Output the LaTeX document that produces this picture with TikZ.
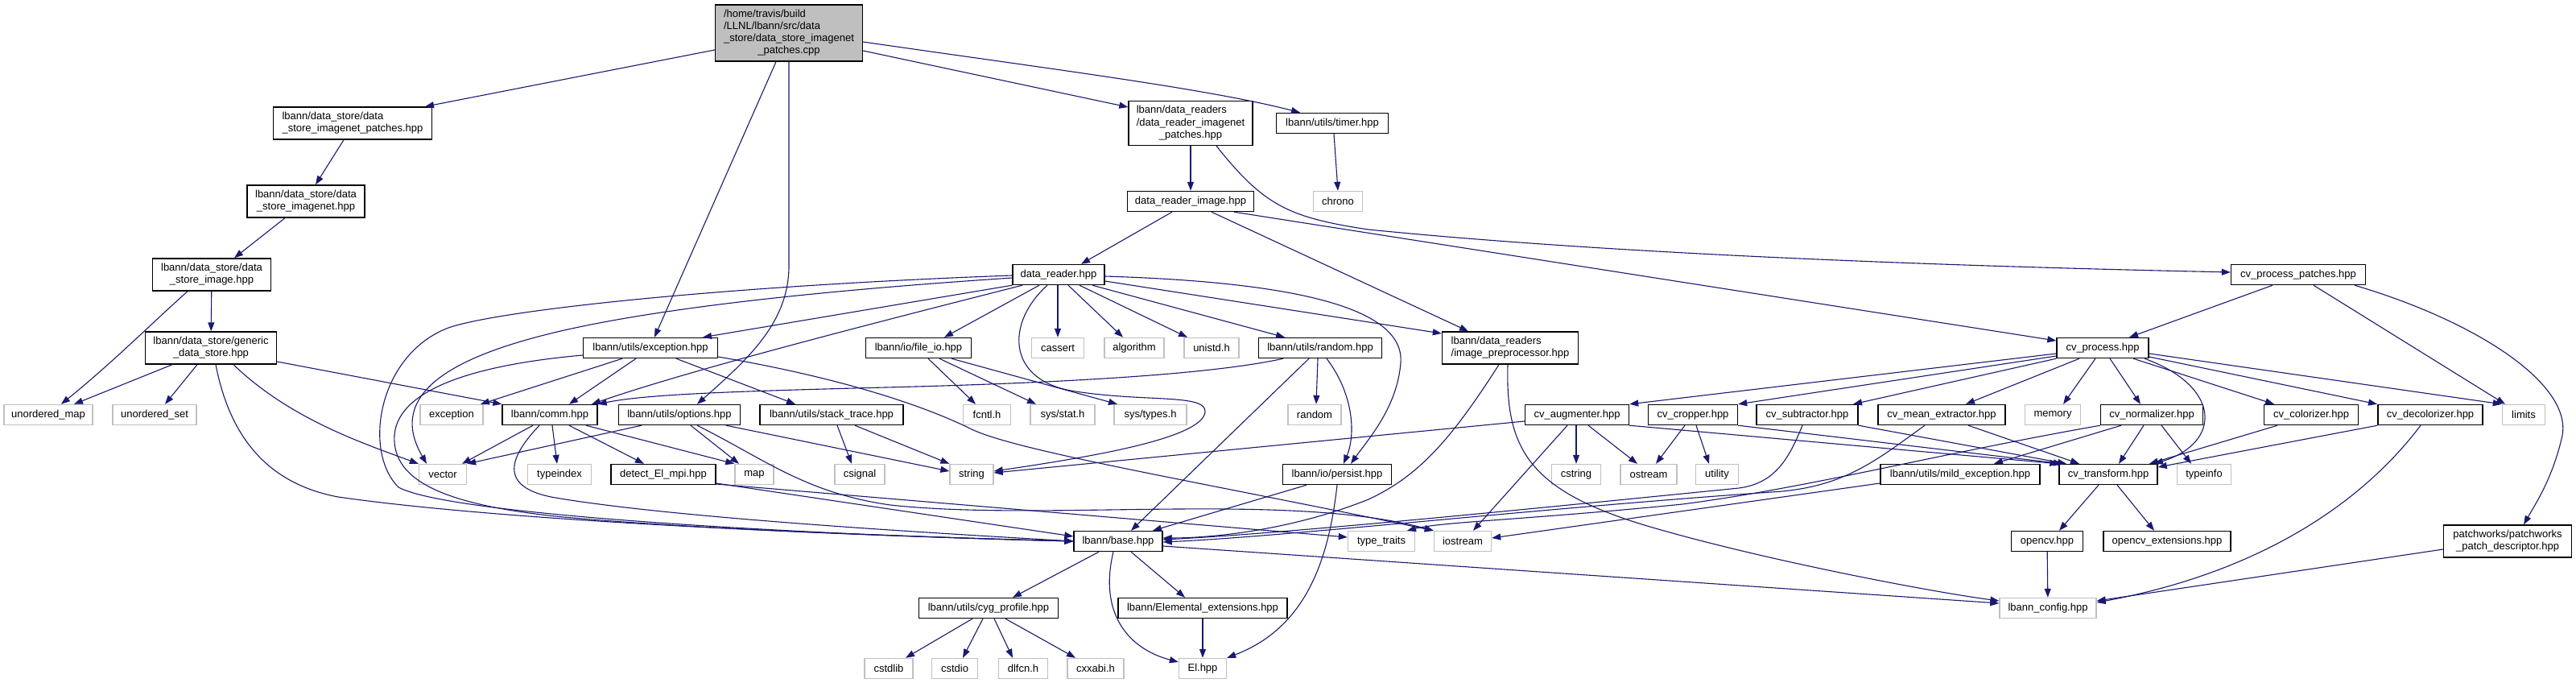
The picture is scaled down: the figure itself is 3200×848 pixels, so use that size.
\documentclass[tikz,border=0pt]{standalone}
\usepackage{fontspec}
\setmainfont{Liberation Sans}
\usetikzlibrary{arrows.meta}
\definecolor{edgec}{HTML}{191970}
\definecolor{sysgray}{HTML}{C0C0C0}
\definecolor{maingray}{HTML}{BFBFBF}
\newcommand{\mlt}[2]{\begin{tabular}{@{}l@{}}#1\\\multicolumn{1}{@{}c@{}}{#2}\end{tabular}}
\begin{document}
\begin{tikzpicture}[x=1pt,y=-1pt,
 nd/.style={draw=black, fill=white, line width=1.4pt, inner sep=0pt, minimum height=25pt, font={\fontsize{13}{15}\selectfont}},
 sy/.style={nd, draw=sysgray},
 e/.style={draw=edgec, line width=1.1pt, -{Triangle[length=11pt,width=8pt]}}]
\fill[white] (0,0) rectangle (3200,848);
\useasboundingbox (0,0) rectangle (3200,848);
% nodes
\node[nd,fill=maingray,minimum width=183pt,minimum height=70pt] (main) at (980,41) {\mlt{/home/travis/build\\/LLNL/lbann/src/data\\\_store/data\_store\_imagenet}{\_patches.cpp}};
\node[nd,minimum width=197pt,minimum height=40pt] (dsp) at (438,153) {\mlt{lbann/data\_store/data}{\_store\_imagenet\_patches.hpp}};
\node[nd,minimum width=146pt,minimum height=40pt] (dsi) at (380,250) {\mlt{lbann/data\_store/data}{\_store\_imagenet.hpp}};
\node[nd,minimum width=147pt,minimum height=40pt] (dsim) at (263,341) {\mlt{lbann/data\_store/data}{\_store\_image.hpp}};
\node[nd,minimum width=163pt,minimum height=40pt] (gen) at (262,432) {\mlt{lbann/data\_store/generic}{\_data\_store.hpp}};
\node[nd,minimum width=154pt,minimum height=55pt] (drp) at (1479,153) {\mlt{lbann/data\_readers\\/data\_reader\_imagenet}{\_patches.hpp}};
\node[nd,minimum width=139pt] (timer) at (1655,153) {lbann/utils/timer.hpp};
\node[sy,minimum width=61pt] (chrono) at (1662,250) {chrono};
\node[nd,minimum width=157pt] (dri) at (1479,250) {data\_reader\_image.hpp};
\node[nd,minimum width=114pt] (dr) at (1315,341) {data\_reader.hpp};
\node[nd,minimum width=169pt,minimum height=40pt] (ip) at (1876,432) {\mlt{lbann/data\_readers}{/image\_preprocessor.hpp}};
\node[nd,minimum width=167pt] (cpp) at (2855,341) {cv\_process\_patches.hpp};
\node[nd,minimum width=114pt] (cvp) at (2612,432) {cv\_process.hpp};
\node[sy,minimum width=110pt] (umap) at (60,515) {unordered\_map};
\node[sy,minimum width=104pt] (uset) at (192,515) {unordered\_set};
\node[sy,minimum width=78pt] (sexc) at (561,515) {exception};
\node[nd,minimum width=118pt] (comm) at (683,515) {lbann/comm.hpp};
\node[nd,minimum width=167pt] (exc) at (808,432) {lbann/utils/exception.hpp};
\node[nd,minimum width=151pt] (opt) at (844,515) {lbann/utils/options.hpp};
\node[sy,minimum width=59pt] (vec) at (550,589) {vector};
\node[sy,minimum width=79pt] (tidx) at (695,589) {typeindex};
\node[nd,minimum width=130pt] (det) at (824,589) {detect\_El\_mpi.hpp};
\node[nd,minimum width=131pt] (fio) at (1141,432) {lbann/io/file\_io.hpp};
\node[sy,minimum width=65pt] (cas) at (1314,432) {cassert};
\node[sy,minimum width=74pt] (alg) at (1409,432) {algorithm};
\node[sy,minimum width=68pt] (uni) at (1505,432) {unistd.h};
\node[nd,minimum width=153pt] (rnd) at (1640,432) {lbann/utils/random.hpp};
\node[nd,minimum width=178pt] (st) at (1033,515) {lbann/utils/stack\_trace.hpp};
\node[sy,minimum width=59pt] (fcntl) at (1226,515) {fcntl.h};
\node[sy,minimum width=80pt] (sstat) at (1320,515) {sys/stat.h};
\node[sy,minimum width=90pt] (stypes) at (1429,515) {sys/types.h};
\node[sy,minimum width=48pt] (map) at (937,589) {map};
\node[sy,minimum width=62pt] (csig) at (1068,589) {csignal};
\node[sy,minimum width=54pt] (str) at (1207,589) {string};
\node[nd,minimum width=110pt] (base) at (1389,672) {lbann/base.hpp};
\node[nd,minimum width=173pt] (cyg) at (1228,755) {lbann/utils/cyg\_profile.hpp};
\node[nd,minimum width=210pt] (elx) at (1494,755) {lbann/Elemental\_extensions.hpp};
\node[sy,minimum width=60pt] (cstdlib) at (1104,830) {cstdlib};
\node[sy,minimum width=57pt] (cstdio) at (1186,830) {cstdio};
\node[sy,minimum width=61pt] (dlfcn) at (1271,830) {dlfcn.h};
\node[sy,minimum width=70pt] (cxxabi) at (1361,830) {cxxabi.h};
\node[sy,minimum width=59pt] (El) at (1494,830) {El.hpp};
\node[nd,minimum width=198pt] (mild) at (2435,589) {lbann/utils/mild\_exception.hpp};
\node[sy,minimum width=66pt] (rstd) at (1633,515) {random};
\node[nd,minimum width=135pt] (per) at (1661,589) {lbann/io/persist.hpp};
\node[nd,minimum width=129pt] (aug) at (1959,515) {cv\_augmenter.hpp};
\node[nd,minimum width=111pt] (crop) at (2103,515) {cv\_cropper.hpp};
\node[nd,minimum width=126pt] (sub) at (2245,515) {cv\_subtractor.hpp};
\node[nd,minimum width=158pt] (mean) at (2412,515) {cv\_mean\_extractor.hpp};
\node[sy,minimum width=61pt] (cstr) at (1958,589) {cstring};
\node[sy,minimum width=70pt] (ost) at (2048,589) {ostream};
\node[sy,minimum width=53pt] (util) at (2133,589) {utility};
\node[sy,minimum width=83pt] (tt) at (1716,672) {type\_traits};
\node[sy,minimum width=71pt] (ios) at (1817,672) {iostream};
\node[sy,minimum width=69pt] (mem) at (2550,515) {memory};
\node[nd,minimum width=127pt] (norm) at (2673,515) {cv\_normalizer.hpp};
\node[nd,minimum width=117pt] (col) at (2871,515) {cv\_colorizer.hpp};
\node[nd,minimum width=130pt] (dec) at (3019,515) {cv\_decolorizer.hpp};
\node[sy,minimum width=53pt] (lim) at (3135,515) {limits};
\node[nd,minimum width=122pt] (tr) at (2619,589) {cv\_transform.hpp};
\node[sy,minimum width=67pt] (tinfo) at (2738,589) {typeinfo};
\node[nd,minimum width=89pt] (ocv) at (2543,672) {opencv.hpp};
\node[nd,minimum width=158pt] (ocvx) at (2692,672) {opencv\_extensions.hpp};
\node[nd,minimum width=159pt,minimum height=40pt] (pw) at (3115,672) {\mlt{patchworks/patchworks}{\_patch\_descriptor.hpp}};
\node[sy,minimum width=120pt] (cfg) at (2544,755) {lbann\_config.hpp};
% edges: main
\draw[e] (main.west |- 0,62) -- (dsp.north -| 528,0);
\draw[e] (main.south -| 964,0) -- (exc.north -| 813,0);
\draw[e] (main.south -| 980,0) -- (980,330) .. controls (980,400) and (930,445) .. (opt.north -| 866,0);
\draw[e] (main.east |- 0,63) -- (drp.west |- 0,133);
\draw[e] (main.east |- 0,52) .. controls (1300,85) and (1500,110) .. (timer.north -| 1615,0);
% data store chain
\draw[e] (dsp.south -| 427,0) -- (dsi.north -| 392,0);
\draw[e] (dsi.south -| 354,0) -- (dsim.north -| 291,0);
\draw[e] (dsim) -- (gen);
\draw[e] (dsim.south -| 233,0) .. controls (190,400) and (140,450) .. (umap.north -| 76,0);
\draw[e] (gen.south -| 214,0) -- (umap.north -| 92,0);
\draw[e] (gen.south -| 245,0) -- (uset.north -| 205,0);
\draw[e] (gen.south -| 268,0) .. controls (285,540) and (330,600) .. (420,617) .. controls (650,650) and (1100,666) .. (base.west);
\draw[e] (gen.south -| 290,0) .. controls (360,520) and (450,550) .. (vec.north west);
\draw[e] (gen.east |- 0,449) -- (comm.north west);
% readers
\draw[e] (drp) -- (dri);
\draw[e] (drp.south -| 1511,0) .. controls (1570,255) and (1600,270) .. (1700,285) .. controls (2000,315) and (2400,330) .. (cpp.west |- 0,338);
\draw[e] (timer.south -| 1657,0) -- (chrono.north);
\draw[e] (dri.south -| 1456,0) -- (dr.north -| 1343,0);
\draw[e] (dri.south -| 1505,0) -- (ip.north -| 1824,0);
\draw[e] (dri.south -| 1533,0) -- (cvp.west |- 0,423);
% data_reader
\draw[e] (dr.west |- 0,345) .. controls (1000,362) and (800,385) .. (680,415) .. controls (560,445) and (480,490) .. (vec.north -| 530,0);
\draw[e] (dr.west |- 0,342) .. controls (900,355) and (620,385) .. (557,407) .. controls (470,440) and (450,560) .. (495,605) .. controls (560,640) and (1000,664) .. (base.west);
\draw[e] (dr.south west) -- (exc.north -| 873,0);
\draw[e] (dr.south -| 1270,0) .. controls (1050,410) and (850,462) .. (comm.north -| 735,0);
\draw[e] (dr.south -| 1291,0) -- (fio.north -| 1173,0);
\draw[e] (dr.south -| 1301,0) .. controls (1250,400) and (1250,470) .. (1330,485) .. controls (1420,500) and (1500,488) .. (1497,512) .. controls (1492,545) and (1350,568) .. (str.east |- 0,585);
\draw[e] (dr.south -| 1314,0) -- (cas.north);
\draw[e] (dr.south -| 1327,0) -- (alg.north -| 1395,0);
\draw[e] (dr.south -| 1341,0) -- (uni.north -| 1475,0);
\draw[e] (dr.south -| 1357,0) -- (rnd.north -| 1596,0);
\draw[e] (dr.east |- 0,349) -- (ip.west |- 0,414);
\draw[e] (dr.east |- 0,343) .. controls (1600,350) and (1745,380) .. (1740,450) .. controls (1736,505) and (1700,545) .. (per.north -| 1678,0);
% exception
\draw[e] (exc.west |- 0,441) .. controls (600,452) and (495,480) .. (490,540) .. controls (486,600) and (560,628) .. (700,642) .. controls (900,660) and (1200,668) .. (base.west);
\draw[e] (exc.south -| 773,0) -- (sexc.north -| 597,0);
\draw[e] (exc.south -| 790,0) -- (comm.north -| 707,0);
\draw[e] (exc.south -| 840,0) -- (st.north -| 988,0);
\draw[e] (exc.east |- 0,443) .. controls (1050,470) and (1150,505) .. (1205,532) .. controls (1260,560) and (1500,600) .. (ios.north west);
% comm
\draw[e] (comm.south -| 662,0) -- (vec.north -| 574,0);
\draw[e] (comm.south -| 670,0) .. controls (635,565) and (615,605) .. (690,618) .. controls (850,645) and (1200,664) .. (base.west);
\draw[e] (comm.south -| 686,0) -- (tidx.north -| 692,0);
\draw[e] (comm.south -| 707,0) -- (det.north -| 800,0);
\draw[e] (comm.south -| 728,0) -- (map.north west);
% options
\draw[e] (opt.south -| 797,0) -- (vec.north east);
\draw[e] (opt.south -| 858,0) -- (map.north -| 918,0);
\draw[e] (opt.south -| 902,0) -- (str.west |- 0,585);
\draw[e] (opt.south -| 866,0) .. controls (950,570) and (1000,612) .. (1106,627) .. controls (1300,648) and (1600,610) .. (ios.north west);
% stack trace, file io
\draw[e] (st.south -| 1040,0) -- (csig.north -| 1058,0);
\draw[e] (st.south -| 1062,0) -- (str.north west);
\draw[e] (fio.south -| 1153,0) -- (fcntl.north -| 1212,0);
\draw[e] (fio.south -| 1167,0) -- (sstat.north -| 1287,0);
\draw[e] (fio.south -| 1182,0) -- (stypes.north -| 1388,0);
% random
\draw[e] (rnd.south -| 1594,0) .. controls (1500,466) and (1300,476) .. (1100,481) .. controls (900,486) and (800,490) .. (comm.north east);
\draw[e] (rnd.south -| 1626,0) -- (base.north -| 1405,0);
\draw[e] (rnd.south -| 1637,0) -- (rstd.north -| 1635,0);
\draw[e] (rnd.south -| 1648,0) .. controls (1682,490) and (1684,540) .. (per.north -| 1669,0);
% persist
\draw[e] (per.south -| 1623,0) -- (base.north -| 1432,0);
\draw[e] (per.south -| 1661,0) .. controls (1650,700) and (1620,780) .. (El.north east);
% detect
\draw[e] (det.east |- 0,600) -- (base.west |- 0,666);
\draw[e] (det.east |- 0,601) -- (tt.west |- 0,667);
% base
\draw[e] (base.south -| 1365,0) -- (cyg.north -| 1258,0);
\draw[e] (base.south -| 1383,0) .. controls (1365,760) and (1400,805) .. (El.west |- 0,822);
\draw[e] (base.south -| 1405,0) -- (elx.north -| 1472,0);
\draw[e] (base.east |- 0,678) -- (cfg.west |- 0,749);
\draw[e] (cyg.south -| 1208,0) -- (cstdlib.north -| 1125,0);
\draw[e] (cyg.south -| 1221,0) -- (cstdio.north -| 1196,0);
\draw[e] (cyg.south -| 1235,0) -- (dlfcn.north -| 1258,0);
\draw[e] (cyg.south -| 1249,0) -- (cxxabi.north -| 1336,0);
\draw[e] (elx) -- (El);
% image preprocessor
\draw[e] (ip.south -| 1862,0) .. controls (1800,550) and (1760,592) .. (1700,620) .. controls (1600,660) and (1500,668) .. (base.east |- 0,668);
\draw[e] (ip.south -| 1873,0) .. controls (1870,560) and (1900,612) .. (2060,657) .. controls (2200,697) and (2400,735) .. (cfg.west |- 0,746);
% cv_process_patches
\draw[e] (cpp.south -| 2823,0) -- (cvp.north -| 2645,0);
\draw[e] (cpp.south -| 2874,0) -- (lim.north -| 3112,0);
\draw[e] (cpp.south -| 2925,0) .. controls (3080,400) and (3200,480) .. (3182,545) .. controls (3170,595) and (3150,625) .. (pw.north -| 3135,0);
% cv_process
\draw[e] (cvp.west |- 0,439) -- (aug.north east);
\draw[e] (cvp.west |- 0,442) -- (crop.north east);
\draw[e] (cvp.south west) -- (sub.north -| 2302,0);
\draw[e] (cvp.south -| 2583,0) -- (mean.north -| 2442,0);
\draw[e] (cvp.south -| 2603,0) -- (mem.north -| 2563,0);
\draw[e] (cvp.south -| 2621,0) -- (norm.north -| 2659,0);
\draw[e] (cvp.south -| 2664,0) .. controls (2760,480) and (2760,550) .. (tr.north -| 2676,0);
\draw[e] (cvp.south -| 2650,0) -- (col.north -| 2825,0);
\draw[e] (cvp.east |- 0,443) -- (dec.north -| 2953,0);
\draw[e] (cvp.east |- 0,439) -- (lim.north west);
% cv filters
\draw[e] (aug.west |- 0,523) -- (str.east |- 0,587);
\draw[e] (aug.south -| 1958,0) -- (cstr.north -| 1958,0);
\draw[e] (aug.south -| 1973,0) -- (ost.north -| 2034,0);
\draw[e] (aug.south -| 1947,0) -- (ios.north -| 1830,0);
\draw[e] (aug.south east) -- (tr.north west);
\draw[e] (crop.south -| 2093,0) -- (ost.north -| 2057,0);
\draw[e] (crop.south -| 2107,0) -- (util.north -| 2123,0);
\draw[e] (crop.south east) -- (tr.north -| 2562,0);
\draw[e] (sub.south east) -- (tr.north -| 2567,0);
\draw[e] (sub.south -| 2239,0) .. controls (2222,570) and (2205,600) .. (2160,606) .. controls (1900,632) and (1600,662) .. (base.east |- 0,670);
\draw[e] (mean.south -| 2445,0) -- (tr.north -| 2583,0);
\draw[e] (mean.south -| 2391,0) .. controls (2330,572) and (2290,606) .. (2200,611) .. controls (1900,632) and (1600,666) .. (base.east |- 0,673);
\draw[e] (norm.south -| 2635,0) -- (mild.north -| 2477,0);
\draw[e] (norm.south -| 2663,0) -- (tr.north -| 2632,0);
\draw[e] (norm.south -| 2685,0) -- (tinfo.north -| 2722,0);
\draw[e] (norm.south west) .. controls (2400,565) and (2250,605) .. (2090,626) .. controls (1900,645) and (1790,648) .. (tt.north -| 1748,0);
\draw[e] (col.south -| 2829,0) -- (tr.north -| 2670,0);
\draw[e] (dec.south west) -- (tr.east |- 0,580);
\draw[e] (dec.south -| 3007,0) .. controls (2930,630) and (2800,712) .. (cfg.east |- 0,748);
\draw[e] (tr.south -| 2607,0) -- (ocv.north -| 2558,0);
\draw[e] (tr.south -| 2630,0) -- (ocvx.north -| 2676,0);
\draw[e] (mild.west |- 0,600) -- (ios.east |- 0,668);
\draw[e] (ocv) -- (cfg);
\draw[e] (pw.west |- 0,682) -- (cfg.east |- 0,746);
\end{tikzpicture}
\end{document}
